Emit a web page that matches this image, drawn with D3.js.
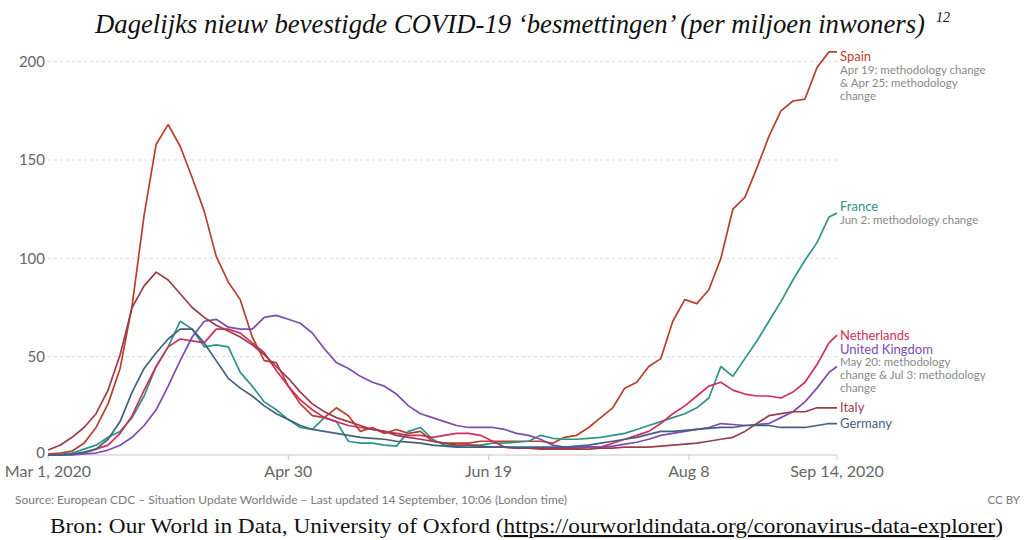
<!DOCTYPE html>
<html>
<head>
<meta charset="utf-8">
<script src="https://cdn.jsdelivr.net/npm/d3@7"></script>
<style>
  body { margin: 0; background: #fff; }
  svg { display: block; }
  .grid line { stroke: #d9d9d9; stroke-dasharray: 3,3; }
  .ylab { font-family: Lato, sans-serif; font-size: 15px; fill: #666; }
  .xlab { font-family: Lato, sans-serif; font-size: 16px; fill: #666; }
  .series { fill: none; stroke-width: 1.7; stroke-linejoin: round; }
  .name { font-family: Lato, sans-serif; font-size: 13px; }
  .note { font-family: Lato, sans-serif; font-size: 11.5px; fill: #8a8a8a; }
</style>
</head>
<body>
<svg id="chart" width="1028" height="540"></svg>
<script>
// day offsets from Mar 1, 2020
var days = [0,3,6,9,12,15,18,21,24,27,30,33,36,39,42,45,48,51,54,57,60,63,66,69,72,75,78,81,84,87,90,93,96,99,102,105,108,111,114,117,120,123,126,129,132,135,138,141,144,147,150,153,156,159,162,165,168,171,174,177,180,183,186,189,192,195,197];

var spain = [0.5,1,2,6,14,26,44,76,122,158,
  168,157,141,124,101,88,79,60,48,47,
  35,26,20,19,24,20,12,14,11,13,
  11,12,7,6,6,6,7,7,7,7,
  7,7,6,9,10,14,19,24,34,37,
  45,49,68,79,77,84,100,125,131,146,
  162,175,180,181,197,205,205];

var france = [0,0.3,1,3,5,9,12,19,30,45,
  55,68,64,55,56,55,42,35,27,23,
  18,14,13,19,17,7,6,6,5,4.5,
  12,14,8,5,4.5,5,5,6,6,6.5,
  7,10,8.5,8,8,8.5,9,10,11,13,
  15,17,19,21,24,29,45,40,49,58,
  68,78,89,99,108,121,123];

var netherlands = [0,0,0.3,1,3,5,11,20,33,45,
  55,59,58,57,64,64,62,57,52,43,
  35,28,23,19,17,15,14,13,12,11,
  10,10,9,10,11,11,10,7,4,3.5,
  3.5,3.5,3.5,3.5,3.5,4,4,6,8,10,
  12,16,21,25,30,35,37,33,31,30,
  30,29,32,37,46,57,61];

var uk = [0,0,0,0.5,1,2.5,5,9,15,23,
  35,48,60,68,69,65,64,64,70,71,
  69,67,62,54,47,44,40,37,35,31,
  25,21,19,17,15,14,14,14,13,11,
  10,8,5,4,4,4,4,4.5,5.5,6.5,
  8,10,11,12,13,14,16,15.5,15,15.5,
  16,19,22,27,34,42,45];

var italy = [2.5,5,9,14,21,33,51,75,86,93,
  89,82,75,70,66,63,60,56,51,45,
  39,32,26,22,19,17,15,13,12,10,
  9,8,7,6,5,5,4.5,4,4,3.5,
  3.5,3,3,3,3,3,3.5,3.5,4,4,
  4,4.5,5,5.5,6,7,8,9,12,16,
  20,21,22,22,24,24,24];

var germany = [0,0,0.5,1.5,3,8,17,32,44,52,
  59,64,64,57,48,39,34,30,25,21,
  18,15,13,12,11,10,9,8.5,8,7,
  6.5,6,5,4.5,4,4,4,4,4,4,
  4,4,4,4,4.5,5,6,7,8,9,
  10.5,12,12,12.5,13,13.5,14,14,15,15,
  15,14,14,14,15,16,16];

var names = ["Spain", "France", "Netherlands", "United Kingdom", "Italy", "Germany"];
var colors = ["#b8402a", "#2e9488", "#cf2f5c", "#7c4cb0", "#9c3c4b", "#44607f"];
var notes = [
  ["Apr 19: methodology change", "& Apr 25: methodology", "change"],
  ["Jun 2: methodology change"],
  [],
  ["May 20: methodology", "change & Jul 3: methodology", "change"],
  [],
  []
];
var yTicks = [0, 50, 100, 150, 200];
var xTickDates = ["2020-03-01", "2020-04-30", "2020-06-19", "2020-08-08", "2020-09-14"];
var xTickLabels = ["Mar 1, 2020", "Apr 30", "Jun 19", "Aug 8", "Sep 14, 2020"];

var allSeries = [spain, france, netherlands, uk, italy, germany];

var svg = d3.select("#chart");
var parse = d3.utcParse("%Y-%m-%d");
var start = parse("2020-03-01");

var x = d3.scaleUtc()
    .domain([start, parse("2020-09-14")])
    .range([48, 837]);

var y = d3.scaleLinear()
    .domain([0, 200])
    .range([455, 61.7]);

// title + footnote mark as separate texts
svg.append("text")
    .attr("x", 95)
    .attr("y", 33)
    .attr("textLength", 830)
    .attr("lengthAdjust", "spacingAndGlyphs")
    .style("font-family", "'Liberation Serif', serif")
    .style("font-style", "italic")
    .style("font-size", "27px")
    .style("fill", "#111")
    .text("Dagelijks nieuw bevestigde COVID-19 \u2018besmettingen\u2019 (per miljoen inwoners)");

svg.append("text")
    .attr("x", 936)
    .attr("y", 22)
    .style("font-family", "'Liberation Serif', serif")
    .style("font-style", "italic")
    .style("font-size", "14px")
    .style("fill", "#111")
    .text("12");

// gridlines
svg.append("g")
    .attr("class", "grid")
  .selectAll("line")
  .data(yTicks.filter(function(d) { return d > 0; }))
  .enter().append("line")
    .attr("x1", x.range()[0])
    .attr("x2", x.range()[1])
    .attr("y1", y)
    .attr("y2", y);

svg.append("g")
  .selectAll("text")
  .data(yTicks)
  .enter().append("text")
    .attr("class", "ylab")
    .attr("x", 45)
    .attr("y", function(d) { return y(d) - (d === 0 ? 2 : 0); })
    .attr("dy", "0.35em")
    .attr("text-anchor", "end")
    .text(function(d) { return d; });

// x axis
svg.append("line")
    .attr("x1", x.range()[0])
    .attr("x2", x.range()[1])
    .attr("y1", y(0))
    .attr("y2", y(0))
    .style("stroke", "#c8c8c8");

var xt = svg.append("g")
  .selectAll("g")
  .data(xTickDates)
  .enter().append("g")
    .attr("transform", function(d) { return "translate(" + x(parse(d)) + "," + y(0) + ")"; });

xt.append("line")
    .attr("y2", 5)
    .style("stroke", "#c8c8c8");

xt.append("text")
    .attr("class", "xlab")
    .attr("y", 22)
    .attr("text-anchor", "middle")
    .text(function(d, i) { return xTickLabels[i]; });

// lines
var line = d3.line()
    .x(function(d, i) { return x(d3.utcDay.offset(start, days[i])); })
    .y(function(d) { return y(d); });

svg.append("g")
  .selectAll("path")
  .data(allSeries)
  .enter().append("path")
    .attr("class", "series")
    .attr("d", line)
    .style("stroke", function(d, i) { return colors[i]; });

// end labels: block centred on last value, clamped to top, pushed apart
var pitch = 13;
var blocks = allSeries.map(function(s, i) {
  var n = notes[i].length;
  var c0 = y(s[s.length - 1]) - pitch * n / 2;
  return { i: i, c0: c0, n: n };
});
blocks.sort(function(a, b) { return a.c0 - b.c0; });
var prevBottom = -Infinity;
blocks.forEach(function(b) {
  if (b.c0 < y(200) - 5) b.c0 = y(200) - 5;
  if (b.c0 - 7 < prevBottom) b.c0 = prevBottom + 7;
  prevBottom = b.c0 + pitch * b.n + 7;
});

var lab = svg.append("g")
  .selectAll("g")
  .data(blocks)
  .enter().append("g")
    .attr("transform", function(b) { return "translate(840," + b.c0 + ")"; });

lab.append("text")
    .attr("class", "name")
    .attr("dy", "0.35em")
    .style("fill", function(b) { return colors[b.i]; })
    .text(function(b) { return names[b.i]; });

lab.selectAll(".note")
  .data(function(b) { return notes[b.i]; })
  .enter().append("text")
    .attr("class", "note")
    .attr("y", function(d, j) { return (j + 1) * pitch; })
    .attr("dy", "0.35em")
    .text(function(d) { return d; });

// footer
svg.append("text")
    .attr("x", 15)
    .attr("y", 504)
    .attr("textLength", 552)
    .attr("lengthAdjust", "spacingAndGlyphs")
    .style("font-family", "Lato, sans-serif")
    .style("font-size", "11.5px")
    .style("fill", "#7a7a7a")
    .text("Source: European CDC \u2013 Situation Update Worldwide \u2013 Last updated 14 September, 10:06 (London time)");

svg.append("text")
    .attr("x", 1020)
    .attr("y", 504)
    .attr("text-anchor", "end")
    .style("font-family", "Lato, sans-serif")
    .style("font-size", "11.5px")
    .style("fill", "#7a7a7a")
    .text("CC BY");

var bron = svg.append("text")
    .attr("x", 50)
    .attr("y", 533)
    .attr("textLength", 953)
    .attr("lengthAdjust", "spacingAndGlyphs")
    .style("font-family", "'Liberation Serif', serif")
    .style("font-size", "21px")
    .style("fill", "#111");
bron.append("tspan").text("Bron: Our World in Data, University of Oxford (");
bron.append("tspan")
    .style("text-decoration", "underline")
    .text("https://ourworldindata.org/coronavirus-data-explorer");
bron.append("tspan").text(")");
</script>
</body>
</html>
